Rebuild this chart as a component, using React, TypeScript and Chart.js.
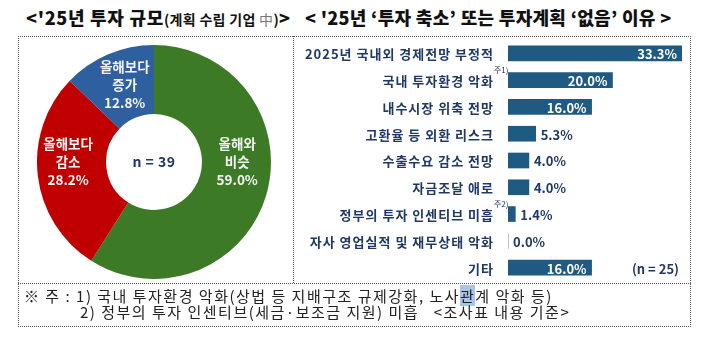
import React, { useEffect, useRef } from "react";
import { Chart, registerables } from "chart.js";

Chart.register(...registerables);

// ---------- data ----------
const pieCategories = ["올해와 비슷", "올해보다 감소", "올해보다 증가"];
const pieLabelLines = [["올해와", "비슷"], ["올해보다", "감소"], ["올해보다", "증가"]];
const pieValues = [59.0, 28.2, 12.8];
const pieColors = ["#3c7a26", "#c00000", "#2e5f9e"];
const pieSampleText = "n = 39";

const barCategories = [
  "2025년 국내외 경제전망 부정적",
  "국내 투자환경 악화",
  "내수시장 위축 전망",
  "고환율 등 외환 리스크",
  "수출수요 감소 전망",
  "자금조달 애로",
  "정부의 투자 인센티브 미흡",
  "자사 영업실적 및 재무상태 악화",
  "기타",
];
const barValues = [33.3, 20.0, 16.0, 5.3, 4.0, 4.0, 1.4, 0.0, 16.0];
const barNotes = ["", "주1)", "", "", "", "", "주2)", "", ""];
const barSampleText = "(n = 25)";
const barMax = 33.3;

const leftTitleMain = "<'25년 투자 규모";
const leftTitleSub = "(계획 수립 기업 中)";
const rightTitle = "< '25년 ‘투자 축소’ 또는 투자계획 ‘없음’ 이유 >";

// ---------- styles ----------
const FONT = "'Noto Sans CJK KR', 'Noto Sans', sans-serif";
const NAVY = "#1f3864";
const BAR_COLOR = "#1f5a82";

const pieLabelPlugin = {
  id: "pieLabels",
  afterDatasetsDraw(chart: any) {
    const ctx = chart.ctx;
    const meta = chart.getDatasetMeta(0);
    const nudges = chart.options.plugins.pieLabels.nudges;
    ctx.save();
    ctx.textAlign = "center";
    ctx.textBaseline = "middle";
    meta.data.forEach((arc: any, i: number) => {
      const p = arc.getProps(["x", "y", "startAngle", "endAngle", "innerRadius", "outerRadius"], true);
      const mid = (p.startAngle + p.endAngle) / 2;
      const r = (p.innerRadius + p.outerRadius) / 2;
      const cx = p.x + Math.cos(mid) * r + nudges[i][0];
      const cy = p.y + Math.sin(mid) * r + nudges[i][1];
      const lines = [...pieLabelLines[i], pieValues[i].toFixed(1) + "%"];
      ctx.fillStyle = "#f4f4f4";
      ctx.font = `bold 13.5px ${FONT}`;
      lines.forEach((ln, k) => {
        ctx.fillText(ln, cx, cy + (k - 1) * 18);
      });
    });
    const a0 = meta.data[0];
    ctx.fillStyle = NAVY;
    ctx.font = `bold 14px ${FONT}`;
    (ctx as any).letterSpacing = "0.5px";
    ctx.fillText(pieSampleText, a0.x, a0.y);
    (ctx as any).letterSpacing = "0px";
    ctx.restore();
  },
};

const barLabelPlugin = {
  id: "barLabels",
  afterDatasetsDraw(chart: any) {
    const ctx = chart.ctx;
    const meta = chart.getDatasetMeta(0);
    const yScale = chart.scales.y;
    const labelRight = yScale.right - 14;
    ctx.save();
    ctx.textBaseline = "middle";
    // category labels
    ctx.font = `bold 13px ${FONT}`;
    ctx.fillStyle = NAVY;
    ctx.textAlign = "right";
    (ctx as any).letterSpacing = "1px";
    barCategories.forEach((c, i) => {
      ctx.fillText(c, labelRight, yScale.getPixelForTick(i) + 1);
    });
    (ctx as any).letterSpacing = "0px";
    // values
    meta.data.forEach((bar: any, i: number) => {
      const v = barValues[i];
      const txt = v.toFixed(1) + "%";
      const p = bar.getProps(["x", "y"], true);
      ctx.font = `bold 13px ${FONT}`;
      if (v >= 10) {
        ctx.fillStyle = "#ffffff";
        ctx.textAlign = "right";
        ctx.fillText(txt, p.x - 5, p.y + 1);
      } else {
        ctx.fillStyle = NAVY;
        ctx.textAlign = "left";
        ctx.fillText(txt, p.x + 5, p.y + 1);
      }
    });
    // superscript notes
    ctx.font = `8px ${FONT}`;
    ctx.fillStyle = NAVY;
    ctx.textAlign = "left";
    barNotes.forEach((n, i) => {
      if (!n) return;
      const ty = yScale.getPixelForTick(i);
      ctx.fillText(n, labelRight, ty - 10);
    });
    // sample size
    ctx.font = `bold 13px ${FONT}`;
    ctx.textAlign = "right";
    ctx.fillText(barSampleText, chart.chartArea.right - 3, yScale.getPixelForTick(barCategories.length - 1) + 1);
    ctx.restore();
  },
};

export default function App() {
  const pieRef = useRef<HTMLCanvasElement>(null);
  const barRef = useRef<HTMLCanvasElement>(null);

  useEffect(() => {
    const pie = new Chart(pieRef.current as HTMLCanvasElement, {
      type: "doughnut",
      data: {
        labels: pieCategories,
        datasets: [{ data: pieValues, backgroundColor: pieColors, borderWidth: 0 }],
      },
      options: {
        animation: false,
        responsive: false,
        maintainAspectRatio: false,
        cutout: "41%",
        layout: { padding: 0 },
        plugins: {
          legend: { display: false },
          tooltip: { enabled: false },
          // @ts-ignore
          pieLabels: { nudges: [[4, -23], [-4, -10], [3, -1]] },
        },
      } as any,
      plugins: [pieLabelPlugin],
    });

    const bar = new Chart(barRef.current as HTMLCanvasElement, {
      type: "bar",
      data: {
        labels: barCategories,
        datasets: [{ data: barValues, backgroundColor: BAR_COLOR, borderWidth: 0, barThickness: 15 }],
      },
      options: {
        indexAxis: "y",
        animation: false,
        responsive: false,
        maintainAspectRatio: false,
        layout: { padding: { top: 4, bottom: 2, right: 9, left: 0 } },
        scales: {
          x: { display: false, min: 0, max: barMax },
          y: {
            grid: { display: false, drawTicks: false },
            border: { display: false },
            ticks: { display: false },
            afterFit: (s: any) => {
              s.width = 215;
            },
          },
        },
        plugins: { legend: { display: false }, tooltip: { enabled: false } },
      } as any,
      plugins: [barLabelPlugin],
    });

    return () => {
      pie.destroy();
      bar.destroy();
    };
  }, []);

  const dotted = "1px dotted #555";
  const abs = (o: any) => ({ position: "absolute" as const, ...o });

  return (
    <div style={abs({ left: 0, top: 0, width: 717, height: 351, background: "#fff", overflow: "hidden", fontFamily: FONT })}>
      <div style={abs({ left: 26, top: 5, fontSize: 18, fontWeight: 900, lineHeight: "24px", color: "#111", whiteSpace: "nowrap", letterSpacing: 0.7 })}>
        {leftTitleMain}
        <span style={{ fontSize: 14, fontWeight: 700, letterSpacing: 0.3 }}>
          {leftTitleSub.slice(0, -2)}
          <span style={{ color: "#777", fontWeight: 400 }}>{leftTitleSub.slice(-2, -1)}</span>
          {leftTitleSub.slice(-1)}
        </span>
        {">"}
      </div>
      <div style={abs({ left: 305, top: 5, fontSize: 18, fontWeight: 900, lineHeight: "24px", color: "#111", whiteSpace: "nowrap", letterSpacing: 0.3 })}>
        {rightTitle}
      </div>

      <canvas ref={pieRef} width={234} height={234} style={abs({ left: 37, top: 45, width: 234, height: 234 })} />
      <canvas ref={barRef} width={398} height={247} style={abs({ left: 293, top: 36, width: 398, height: 247 })} />

      <div style={abs({ left: 18, top: 36, width: 673, height: 291, border: dotted, boxSizing: "border-box" })} />
      <div style={abs({ left: 293, top: 36, width: 0, height: 247, borderLeft: dotted })} />
      <div style={abs({ left: 18, top: 283, width: 673, height: 0, borderTop: dotted })} />

      <div style={abs({ left: 24, top: 287, fontSize: 15, lineHeight: "18px", color: "#222", whiteSpace: "nowrap", letterSpacing: 1.5 })}>
        ※ 주 : 1) 국내 투자환경 악화(상법 등 지배구조 규제강화, 노사
        <span style={{ background: "#a8c4e6" }}>관</span>계 악화 등)
      </div>
      <div style={abs({ left: 80, top: 303, fontSize: 15, lineHeight: "18px", color: "#222", whiteSpace: "nowrap", letterSpacing: 1.5 })}>
        2) 정부의 투자 인센티브(세금·보조금 지원) 미흡&nbsp;&nbsp;&nbsp;&lt;조사표 내용 기준&gt;
      </div>
    </div>
  );
}
